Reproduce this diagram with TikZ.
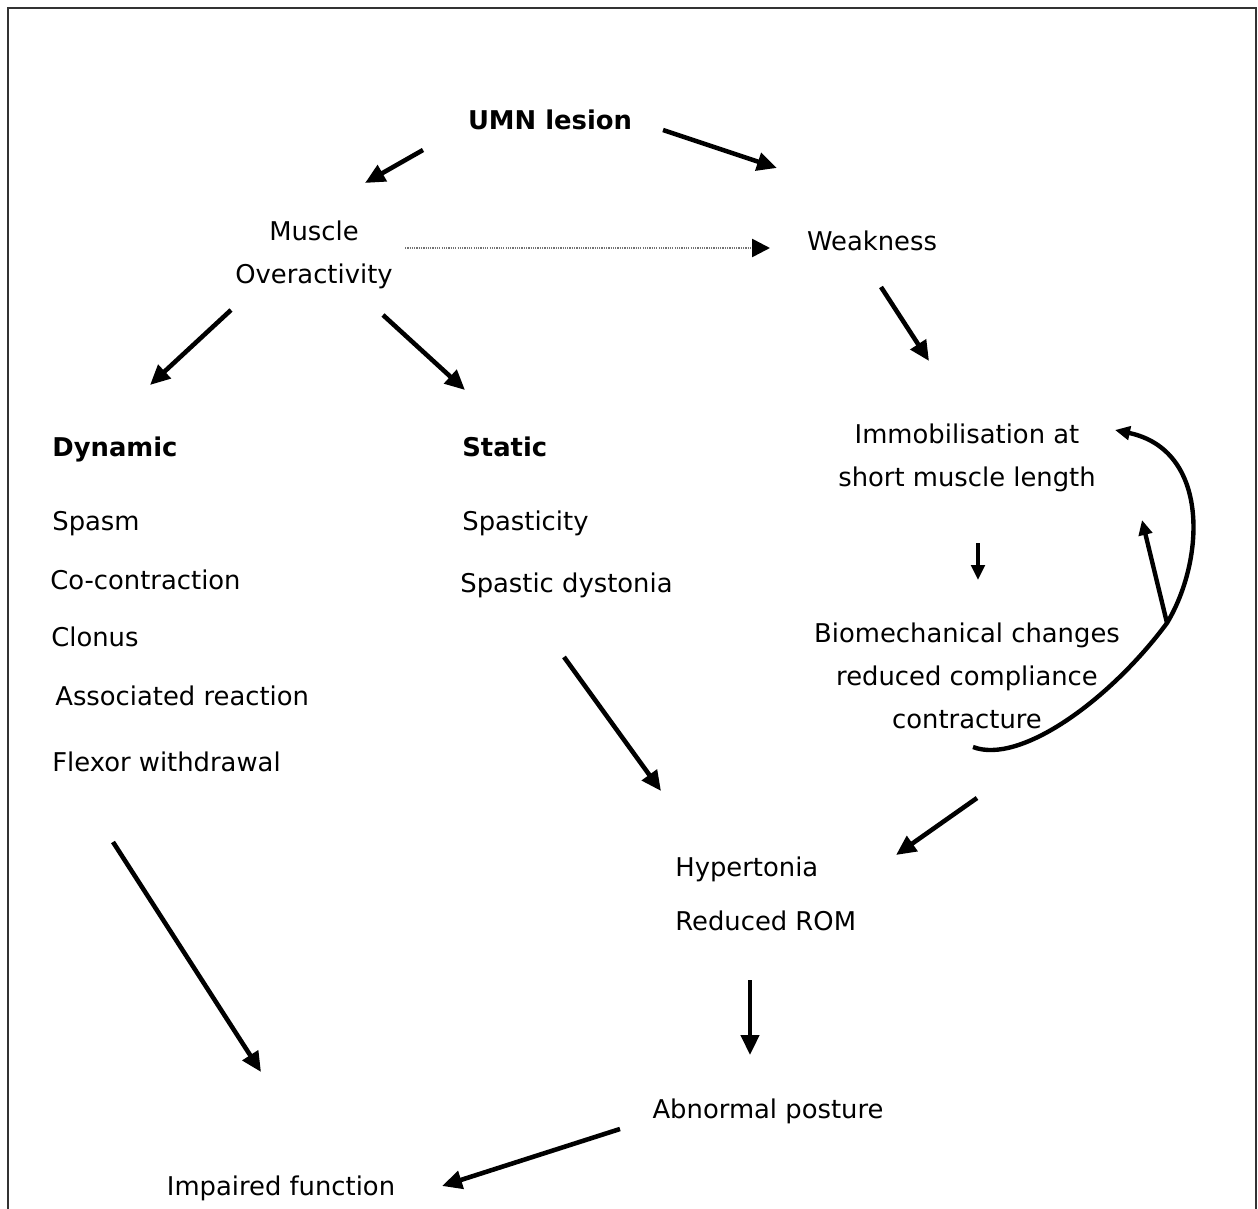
\documentclass[tikz,border=0pt]{standalone}
\usepackage{fontspec}
\setmainfont{DejaVu Sans}
\usetikzlibrary{arrows.meta}

\begin{document}
\begin{tikzpicture}[x=0.02cm, y=-0.02cm,
  every node/.style={font=\fontsize{14.7}{24.5}\selectfont, inner sep=0pt, align=center},
  head/.style={font=\fontsize{14.7}{24.5}\selectfont\bfseries},
  item/.style={anchor=mid west},
  arr/.style={line width=2.6pt, -{Triangle[length=0.4cm,width=0.36cm]}},
  small arr/.style={line width=2.5pt, -{Triangle[length=0.3cm,width=0.27cm]}},
  dots/.style={black!55, line width=1.5pt, dash pattern=on 0.7pt off 0.6pt,
    -{Triangle[length=0.36cm,width=0.36cm,black]}}]
\useasboundingbox (0,0) rectangle (1258,1209);
\draw[line width=1.1pt, black!80] (8,1209) -- (8,8) -- (1256,8) -- (1256,1209);

% top of the cycle
\node[head] (umn) at (550,120) {UMN lesion};
\node (mo) at (314,255) {Muscle\\Overactivity};
\node[anchor=mid] (weak) at (872,246) {Weakness};

% dynamic column
\node[head, item] (dyn) at (52,452) {Dynamic};
\node[item] (spasm) at (52,526) {Spasm};
\node[item] (cocon) at (50,585) {Co-contraction};
\node[item] (clonus) at (51,642) {Clonus};
\node[item] (assoc) at (55,701) {Associated reaction};
\node[item] (fw) at (52,767) {Flexor withdrawal};

% static column
\node[head, item] (stat) at (462,452) {Static};
\node[item] (spast) at (462,526) {Spasticity};
\node[item] (sd) at (460,588) {Spastic dystonia};

% right side
\node (imm) at (967,458) {Immobilisation at\\short muscle length};
\node (bio) at (967,676) {Biomechanical changes\\reduced compliance\\contracture};
\node[item] (hyp) at (675,872) {Hypertonia};
\node[item] (rom) at (675,926) {Reduced ROM};
\node[anchor=mid] (abn) at (768,1114) {Abnormal posture};
\node[anchor=mid] (imp) at (281,1191) {Impaired function};

\draw[arr] ([shift={(-127,30)}]umn.center) -- ([shift={(51,-72)}]mo.center);
\draw[arr] ([shift={(113,10)}]umn.center) -- ([shift={(-95,-78)}]weak.mid);
\draw[dots] ([shift={(91,-7)}]mo.center) -- ([shift={(-102,2)}]weak.mid);
\draw[arr] ([shift={(-83,55)}]mo.center) -- ([shift={(98,-67)}]dyn.mid west);
\draw[arr] ([shift={(69,60)}]mo.center) -- ([shift={(3,-62)}]stat.mid west);
\draw[arr] ([shift={(9,41)}]weak.mid) -- ([shift={(-38,-97)}]imm.center);
\draw[small arr] ([shift={(11,85)}]imm.center) -- ([shift={(11,-96)}]bio.center);
\draw[arr] ([shift={(104,69)}]sd.mid west) -- ([shift={(-14,-81)}]hyp.mid west);
\draw[arr] ([shift={(10,122)}]bio.center) -- ([shift={(221,-17)}]hyp.mid west);
\draw[arr] ([shift={(75,54)}]rom.mid west) -- ([shift={(-18,-59)}]abn.mid);
\draw[arr] ([shift={(61,75)}]fw.mid west) -- ([shift={(-20,-119)}]imp.mid);
\draw[arr] ([shift={(-148,15)}]abn.mid) -- ([shift={(161,-5)}]imp.mid);

% feedback loop
\coordinate (fork) at ([shift={(200,-53)}]bio.center);
\draw[small arr] ([shift={(6,71)}]bio.center)
  .. controls (1020,765) and (1110,700) .. (fork)
  .. controls (1205,560) and (1210,450) .. ([shift={(148,-28)}]imm.center);
\draw[small arr] (fork) -- ([shift={(175,62)}]imm.center);
\end{tikzpicture}
\end{document}
